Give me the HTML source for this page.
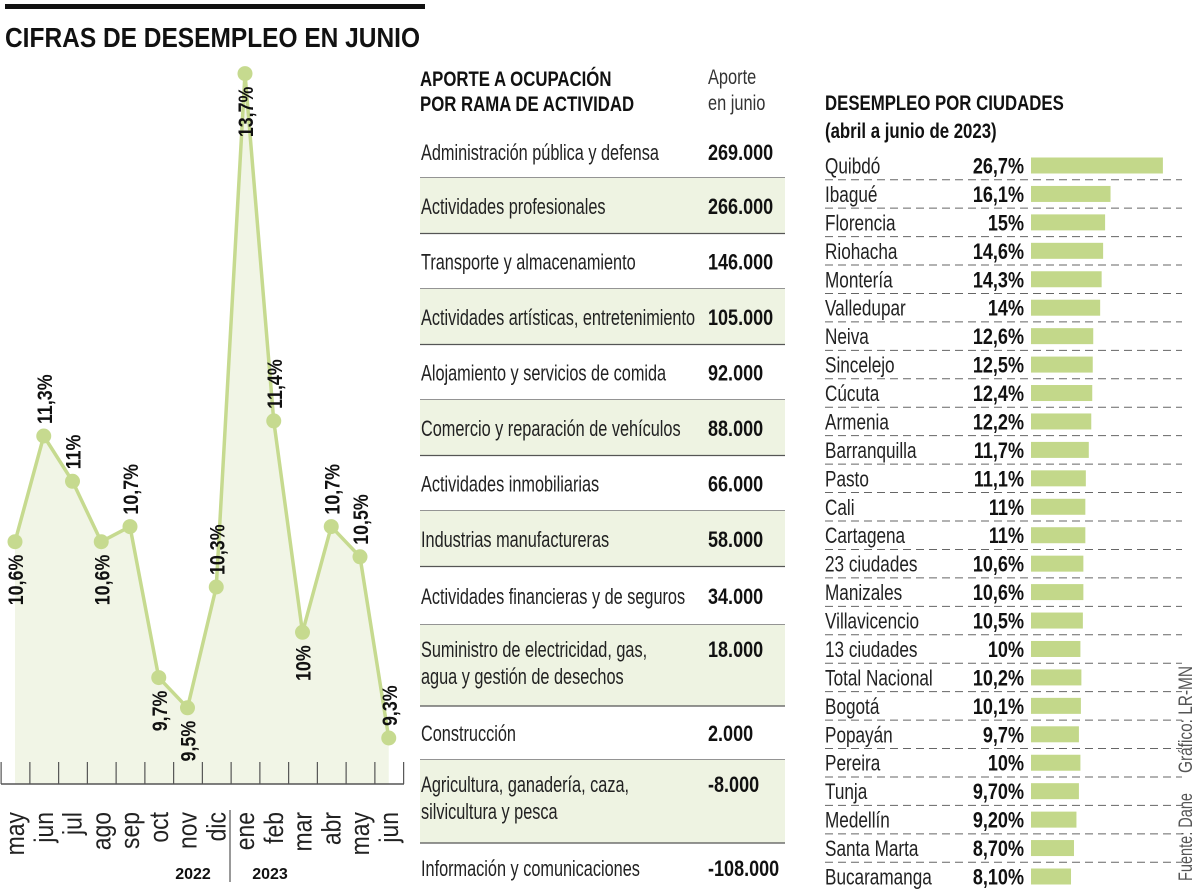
<!DOCTYPE html>
<html><head><meta charset="utf-8"><style>
html,body{margin:0;padding:0;background:#fff;}
svg{display:block;font-family:"Liberation Sans",sans-serif;}
</style></head><body>
<svg id="root" width="1200" height="893" viewBox="0 0 1200 893" xmlns="http://www.w3.org/2000/svg">
<rect x="5" y="4" width="420" height="5" fill="#111"/>
<text x="5" y="47" font-size="28" font-weight="bold" fill="#111" textLength="415" lengthAdjust="spacingAndGlyphs">CIFRAS DE DESEMPLEO EN JUNIO</text>
<g id="line-chart"></g>
<g id="table"></g>
<g id="bars"></g>
<text transform="translate(1192,881) rotate(-90)" font-size="19" fill="#555" textLength="88" lengthAdjust="spacingAndGlyphs">Fuente: Dane</text>
<text transform="translate(1192,773) rotate(-90)" font-size="19" fill="#555" textLength="107" lengthAdjust="spacingAndGlyphs">Gráfico: LR-MN</text>
</svg>
<script>
// ---- line chart data ----
const months = ["may","jun","jul","ago","sep","oct","nov","dic","ene","feb","mar","abr","may","jun"];
const rates = [10.6,11.3,11.0,10.6,10.7,9.7,9.5,10.3,13.7,11.4,10.0,10.7,10.5,9.3];
const rateLabels = ["10,6%","11,3%","11%","10,6%","10,7%","9,7%","9,5%","10,3%","13,7%","11,4%","10%","10,7%","10,5%","9,3%"];
const labelSide = ["b","a","a","b","a","b","b","a","b","a","b","a","a","a"];
// ---- table data ----
const activities = [["Administración pública y defensa"],["Actividades profesionales"],["Transporte y almacenamiento"],["Actividades artísticas, entretenimiento"],["Alojamiento y servicios de comida"],["Comercio y reparación de vehículos"],["Actividades inmobiliarias"],["Industrias manufactureras"],["Actividades financieras y de seguros"],["Suministro de electricidad, gas,","agua y gestión de desechos"],["Construcción"],["Agricultura, ganadería, caza,","silvicultura y pesca"],["Información y comunicaciones"]];
const contributions = ["269.000","266.000","146.000","105.000","92.000","88.000","66.000","58.000","34.000","18.000","2.000","-8.000","-108.000"];
// ---- city bar data ----
const cities = ["Quibdó","Ibagué","Florencia","Riohacha","Montería","Valledupar","Neiva","Sincelejo","Cúcuta","Armenia","Barranquilla","Pasto","Cali","Cartagena","23 ciudades","Manizales","Villavicencio","13 ciudades","Total Nacional","Bogotá","Popayán","Pereira","Tunja","Medellín","Santa Marta","Bucaramanga"];
const cityRates = [26.7,16.1,15,14.6,14.3,14,12.6,12.5,12.4,12.2,11.7,11.1,11,11,10.6,10.6,10.5,10,10.2,10.1,9.7,10,9.7,9.2,8.7,8.1];
const cityLabels = ["26,7%","16,1%","15%","14,6%","14,3%","14%","12,6%","12,5%","12,4%","12,2%","11,7%","11,1%","11%","11%","10,6%","10,6%","10,5%","10%","10,2%","10,1%","9,7%","10%","9,70%","9,20%","8,70%","8,10%"];

const NS="http://www.w3.org/2000/svg";
function mk(parent,tag,attrs,txt){const e=document.createElementNS(NS,tag);for(const k in attrs)e.setAttribute(k,attrs[k]);if(txt!==undefined)e.textContent=txt;parent.appendChild(e);return e;}

// line chart
(function(){
const g=document.getElementById('line-chart');
const x0=15, dx=28.75, base=784;
const xs=i=>x0+i*dx;
const ys=v=>738-(v-9.3)*151;
let d="M"+xs(0)+","+base;
rates.forEach((v,i)=>{d+=" L"+xs(i)+","+ys(v);});
d+=" L"+xs(rates.length-1)+","+base+" Z";
const area=mk(g,'path',{d:d,fill:'#f1f5e6'});


const pts=rates.map((v,i)=>xs(i)+","+ys(v)).join(" ");
const line=mk(g,'polyline',{points:pts,fill:'none',stroke:'#c6da8f','stroke-width':3.5,'stroke-linejoin':'round'});


const ax=mk(g,'line',{x1:1,x2:404,y1:base,y2:base,stroke:'#555','stroke-width':1.5});


for(let i=0;i<=months.length;i++){
  const tx=xs(i)-dx/2+0.5;
  const t=mk(g,'line',{x1:tx,x2:tx,y1:762,y2:base,stroke:'#555','stroke-width':1.2});
  
  
}
rates.forEach((v,i)=>{
  const c=mk(g,'circle',{cx:xs(i),cy:ys(v),r:7.5,fill:'#c6da8f'});
  
  
  const above=labelSide[i]==='a';
  const ly=above?ys(v)-12:ys(v)+13;
  const t=mk(g,'text',{transform:`translate(${xs(i)+8},${ly}) rotate(-90) scale(0.85,1)`,'font-size':21,'font-weight':'bold',fill:'#111','text-anchor':above?'start':'end'},rateLabels[i]);
  
  
  const m=mk(g,'text',{transform:`translate(${xs(i)+9},812) rotate(-90) scale(0.85,1)`,'font-size':27,fill:'#222','text-anchor':'end'},months[i]);
  
  
});
const y1=mk(g,'text',{x:193,y:879,'font-size':16,'font-weight':'bold',fill:'#111','text-anchor':'middle'},'2022');


const y2=mk(g,'text',{x:270,y:879,'font-size':16,'font-weight':'bold',fill:'#111','text-anchor':'middle'},'2023');


const dv=mk(g,'line',{x1:230,x2:230,y1:810,y2:882,stroke:'#333','stroke-width':1});


})();

// table
(function(){
const g=document.getElementById('table');
const h1=mk(g,'text',{transform:'translate(420,86) scale(0.8,1)','font-size':21,'font-weight':'bold',fill:'#111'},'APORTE A OCUPACIÓN');


const h2=mk(g,'text',{transform:'translate(420,111) scale(0.8,1)','font-size':21,'font-weight':'bold',fill:'#111'},'POR RAMA DE ACTIVIDAD');


const h3=mk(g,'text',{transform:'translate(708,84) scale(0.78,1)','font-size':21,fill:'#333'},'Aporte');


const h4=mk(g,'text',{transform:'translate(708,110) scale(0.78,1)','font-size':21,fill:'#333'},'en junio');


const tops=[124,178,233.5,289,344.5,400,455.5,511,566.5,625,706,760,843,893];
activities.forEach((a,i)=>{
  const top=tops[i], bot=tops[i+1];
  if(i%2===1){
    const r=mk(g,'rect',{x:420,y:top,width:365,height:bot-top,fill:'#eef3e2'});
    
    
  }
  const cy=(top+bot)/2+(i===0?1:0);
  const by=a.length>1?top+32:cy+8;
  a.forEach((ln,j)=>{
    const t=mk(g,'text',{transform:`translate(421,${by+j*27}) scale(0.74,1)`,'font-size':22,fill:'#222'},ln);
    
    
  });
  const v=mk(g,'text',{transform:`translate(708,${by}) scale(0.82,1)`,'font-size':22,'font-weight':'bold',fill:'#111'},contributions[i]);
  
  
  if(i<activities.length-1){
    const s=mk(g,'line',{x1:420,x2:785,y1:bot,y2:bot,stroke:'#555','stroke-width':1.2});
    
    
  }
});
})();

// bars
(function(){
const g=document.getElementById('bars');
const t1=mk(g,'text',{transform:'translate(825,110) scale(0.8,1)','font-size':21,'font-weight':'bold',fill:'#111'},'DESEMPLEO POR CIUDADES');


const t2=mk(g,'text',{transform:'translate(825,138) scale(0.8,1)','font-size':21,'font-weight':'bold',fill:'#111'},'(abril a junio de 2023)');


const bx=1031, k=4.94, rh=28.44, c0=165.5;
cities.forEach((c,i)=>{
  const cy=c0+i*rh;
  const n=mk(g,'text',{transform:`translate(825,${cy+8}) scale(0.78,1)`,'font-size':22,fill:'#222'},c);
  
  
  const v=mk(g,'text',{transform:`translate(1024,${cy+8}) scale(0.82,1)`,'font-size':22,'font-weight':'bold',fill:'#111','text-anchor':'end'},cityLabels[i]);
  
  
  const b=mk(g,'rect',{x:bx,y:cy-8,width:cityRates[i]*k,height:16,fill:'#c3d88a'});
  
  
  if(i<cities.length-1){
    const s=mk(g,'line',{x1:825,x2:1182,y1:cy+rh/2,y2:cy+rh/2,stroke:'#666','stroke-width':1,'stroke-dasharray':'8,5'});
    
    
  }
});
})();
</script>
</body></html>
